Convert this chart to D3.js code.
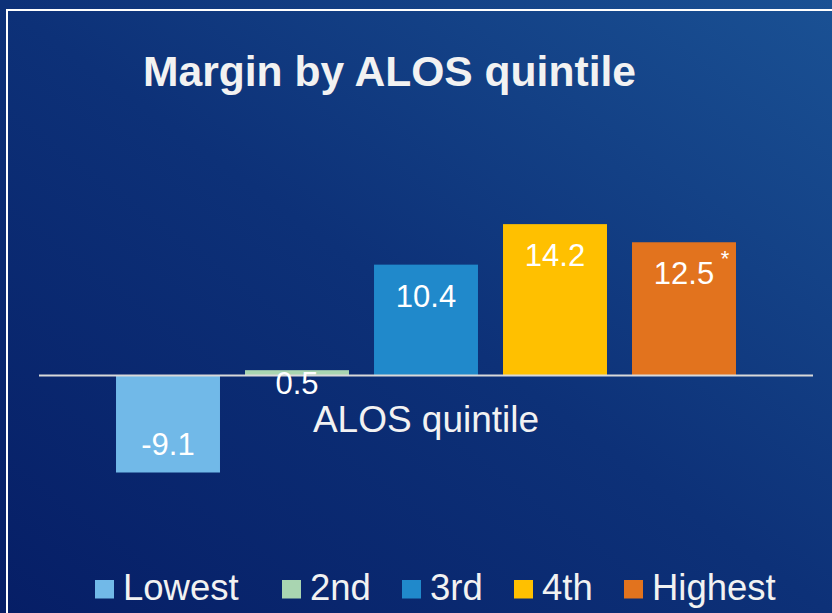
<!DOCTYPE html>
<html>
<head>
<meta charset="utf-8">
<script src="https://cdn.jsdelivr.net/npm/d3@7"></script>
<style>
  html, body { margin: 0; padding: 0; background: #0b2a6e; }
  svg { display: block; }
  text { font-family: "Liberation Sans", Arial, sans-serif; }
</style>
</head>
<body>
<svg id="chart" width="832" height="613"></svg>
<script>
const categories = ["Lowest", "2nd", "3rd", "4th", "Highest"];
const values = [-9.1, 0.5, 10.4, 14.2, 12.5];
const valueLabels = ["-9.1", "0.5", "10.4", "14.2", "12.5"];
const notes = ["", "", "", "", "*"];
const colors = ["#71b9e8", "#a9d5b1", "#2089cb", "#ffc000", "#e2731e"];
const titleText = "Margin by ALOS quintile";
const axisTitle = "ALOS quintile";

const W = 832, H = 613;
const svg = d3.select("#chart");

// background gradient
const defs = svg.append("defs");
const grad = defs.append("linearGradient").attr("id", "bg")
  .attr("x1", "0%").attr("y1", "100%").attr("x2", "100%").attr("y2", "0%");
grad.append("stop").attr("offset", "0%").attr("stop-color", "#061e66");
grad.append("stop").attr("offset", "50%").attr("stop-color", "#0d3178");
grad.append("stop").attr("offset", "100%").attr("stop-color", "#1a5194");
svg.append("rect").attr("width", W).attr("height", H).attr("fill", "url(#bg)");

// frame
svg.append("rect").attr("x", 7).attr("y", 10).attr("width", W + 20).attr("height", H + 20)
  .attr("fill", "none").attr("stroke", "#ffffff").attr("stroke-width", 2);

// title
svg.append("text").attr("x", 143).attr("y", 86)
  .attr("font-size", 42.6).attr("font-weight", "bold").attr("fill", "#f2f2f2")
  .text(titleText);

// scales
const x = d3.scaleBand().domain(categories).range([103.5, 748.5])
  .paddingInner(0.194).paddingOuter(0.097);
const y = d3.scaleLinear().domain([-10, 16]).range([375.5 + 106.6, 375.5 - 170.56]);

// bars
svg.append("g").selectAll("rect").data(categories).join("rect")
  .attr("x", d => x(d))
  .attr("width", x.bandwidth())
  .attr("y", (d, i) => y(Math.max(0, values[i])))
  .attr("height", (d, i) => Math.abs(y(values[i]) - y(0)))
  .attr("fill", (d, i) => colors[i]);

// zero axis line
svg.append("line").attr("x1", 39).attr("x2", 813).attr("y1", y(0)).attr("y2", y(0))
  .attr("stroke", "#d9d9d9").attr("stroke-width", 2);

// value labels
const lab = svg.append("g");
categories.forEach((c, i) => {
  const v = values[i];
  const h = Math.abs(y(v) - y(0));
  let by;
  if (v >= 0 && h > 40) by = y(v) + 42;
  else if (v >= 0) by = y(0) + 18.5;
  else by = y(v) - 18;
  const cx = x(c) + x.bandwidth() / 2;
  lab.append("text").attr("x", cx).attr("y", by)
    .attr("text-anchor", "middle").attr("font-size", 31).attr("fill", "#ffffff")
    .text(valueLabels[i]);
  if (notes[i]) {
    lab.append("text").attr("x", cx + 41).attr("y", by - 18)
      .attr("text-anchor", "middle").attr("font-size", 22).attr("fill", "#ffffff")
      .text(notes[i]);
  }
});

// axis title
svg.append("text").attr("x", 426).attr("y", 432)
  .attr("text-anchor", "middle").attr("font-size", 37).attr("fill", "#f2f2f2")
  .text(axisTitle);

// legend (item left edges as layout)
const legendX = [95, 282, 402, 514, 624];
const leg = svg.append("g");
categories.forEach((c, i) => {
  leg.append("rect").attr("x", legendX[i]).attr("y", 580).attr("width", 19).attr("height", 18.5)
    .attr("fill", colors[i]);
  leg.append("text").attr("x", legendX[i] + 28).attr("y", 600)
    .attr("font-size", 36.5).attr("fill", "#f2f2f2").text(c);
});
</script>
</body>
</html>
